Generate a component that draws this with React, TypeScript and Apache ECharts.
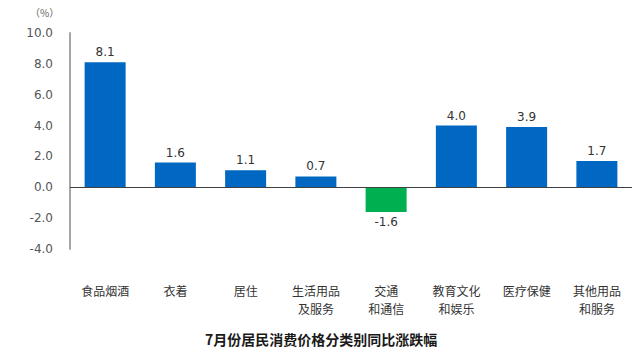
import React, { useEffect, useRef } from "react";
import * as echarts from "echarts";

const categories = ["食品烟酒", "衣着", "居住", "生活用品\n及服务", "交通\n和通信", "教育文化\n和娱乐", "医疗保健", "其他用品\n和服务"];
const values = [8.1, 1.6, 1.1, 0.7, -1.6, 4.0, 3.9, 1.7];
const title = "7月份居民消费价格分类别同比涨跌幅";
const unitLabel = "（%）";

const BLUE = "#0068c2";
const GREEN = "#00b050";

export default function App() {
  const ref = useRef<HTMLDivElement>(null);
  useEffect(() => {
    document.body.style.margin = "0";
    const chart = echarts.init(ref.current!, null, { renderer: "svg" });
    chart.setOption({
      animation: false,
      backgroundColor: "#ffffff",
      textStyle: { fontFamily: "'Noto Sans CJK SC', 'DejaVu Sans', sans-serif" },
      title: {
        text: title,
        left: 316,
        textAlign: "center",
        top: 327,
        textStyle: { fontSize: 14, fontWeight: "bold", color: "#1a1a1a", fontFamily: "'Noto Sans CJK SC', sans-serif" },
      },
      graphic: [
        {
          type: "text",
          left: 30,
          top: 7,
          style: { text: unitLabel, fontSize: 10, fill: "#666", fontFamily: "'Noto Sans CJK SC', sans-serif" },
        },
      ],
      grid: { left: 70, right: 8, top: 33, bottom: 115, containLabel: false },
      xAxis: {
        type: "category",
        data: categories,
        axisLine: { show: false, onZero: false },
        axisTick: { show: false },
        axisLabel: {
          margin: 32,
          fontSize: 12,
          lineHeight: 18,
          color: "#333",
          interval: 0,
          fontFamily: "'Noto Sans CJK SC', sans-serif",
        },
      },
      yAxis: {
        type: "value",
        min: -4,
        max: 10,
        interval: 2,
        splitLine: { show: false },
        axisTick: { show: false },
        axisLine: { show: true, lineStyle: { color: "#a6a6a6", width: 2 } },
        axisLabel: {
          margin: 17,
          fontSize: 12,
          color: "#555",
          fontFamily: "'DejaVu Sans', sans-serif",
          formatter: (v: number) => v.toFixed(1),
        },
      },
      series: [
        {
          type: "bar",
          barWidth: 41,
          data: values.map((v) => ({
            value: v,
            itemStyle: { color: v < 0 ? GREEN : BLUE },
            label: { position: v < 0 ? "bottom" : "top" },
          })),
          label: {
            show: true,
            fontSize: 12,
            color: "#333",
            distance: 4,
            fontFamily: "'DejaVu Sans', sans-serif",
            formatter: (p: any) => Number(p.value).toFixed(1),
          },
          markLine: {
            silent: true,
            symbol: "none",
            label: { show: false },
            lineStyle: { color: "#404040", width: 1.2, type: "solid" },
            data: [{ yAxis: 0 }],
          },
        },
      ],
    });
    return () => chart.dispose();
  }, []);
  return <div ref={ref} style={{ width: 640, height: 364 }} />;
}
